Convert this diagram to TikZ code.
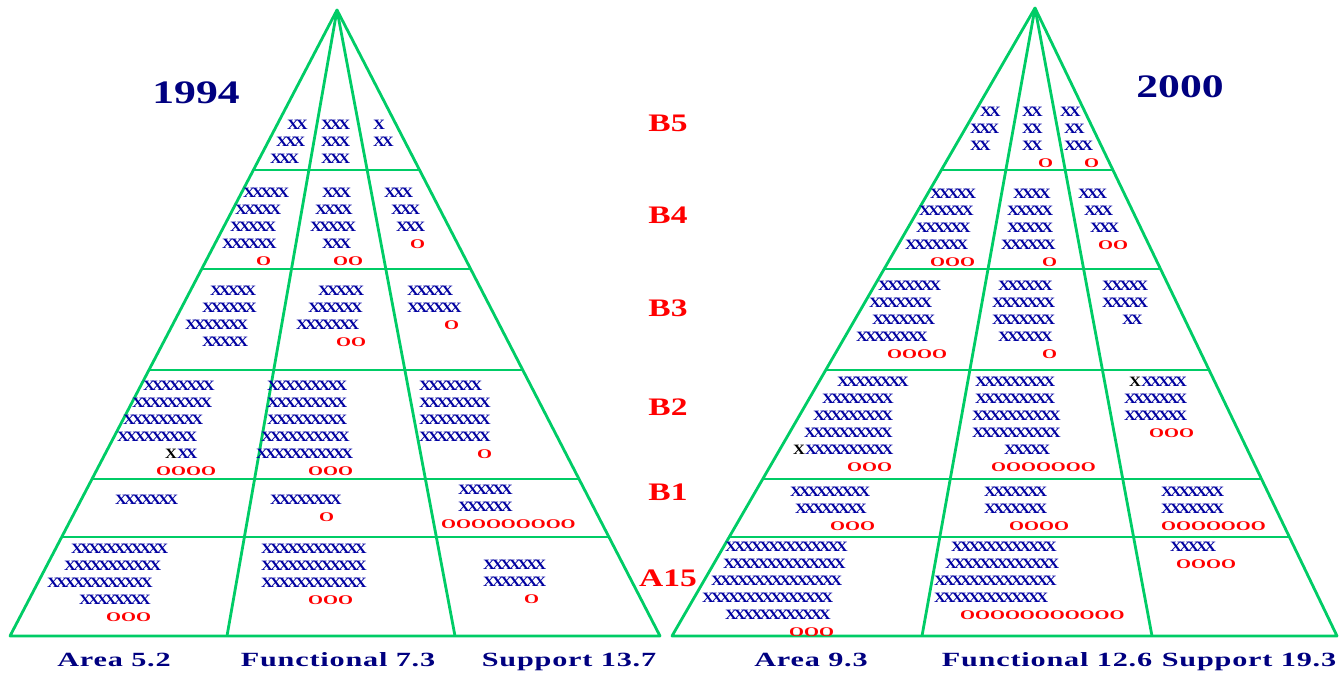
\documentclass[tikz,border=0pt]{standalone}
\usepackage{fontspec}
\setmainfont{Liberation Serif}
\newfontfamily\xfont{Liberation Serif}[FakeStretch=1.15,LetterSpace=-23.5]
\newfontfamily\ofont{Liberation Serif}[FakeStretch=1.45]
\newfontfamily\labfont{Liberation Serif}[FakeStretch=1.33]
\newfontfamily\fieldfont{Liberation Serif}[FakeStretch=1.5,LetterSpace=4]
\usetikzlibrary{calc}

\definecolor{pgreen}{RGB}{0,204,102}
\definecolor{xblue}{RGB}{0,0,160}
\definecolor{navy}{RGB}{0,0,128}
\definecolor{ored}{RGB}{255,0,0}

\newlength\pxu \setlength\pxu{0.03cm}
\newcommand\ind[1]{\hspace*{#1\pxu}}
\newcommand\orow[1]{{\ofont\bfseries\fontsize{11.3}{14.5}\selectfont\color{ored}#1}}
\newcommand\kx{{\color{black}X}}

\tikzset{
  gline/.style={pgreen, line width=2.4pt, line join=round},
  cell/.style={anchor=north west, inner sep=0pt, align=left, text=xblue,
    font=\xfont\bfseries\fontsize{12.2}{14.5}\selectfont},
  rank/.style={anchor=base, inner sep=0pt, text=ored,
    font=\labfont\bfseries\fontsize{21.5}{24}\selectfont},
  yearlab/.style={anchor=base, inner sep=0pt, text=navy,
    font=\labfont\bfseries\fontsize{28}{30}\selectfont},
  field/.style={anchor=base, inner sep=0pt, text=navy,
    font=\fieldfont\bfseries\fontsize{17.2}{19}\selectfont},
}

\begin{document}
\begin{tikzpicture}[x=0.03cm, y=-0.03cm]
  \useasboundingbox (0,0) rectangle (1339,677);

  % 1994 pyramid
  \coordinate (LA)  at (337,10);
  \coordinate (LL)  at (10,636);
  \coordinate (LR)  at (660,636);
  \coordinate (LM1) at (227,636);
  \coordinate (LM2) at (455,636);
  \draw[gline] (LA) -- (LL) -- (LR) -- cycle;
  \draw[gline] (LA) -- (LM1) (LA) -- (LM2);
  \foreach \t in {0.2556,0.4137,0.5751,0.7492,0.8419}
    \draw[gline] ($(LA)!\t!(LL)$) -- ($(LA)!\t!(LR)$);

  % 2000 pyramid
  \coordinate (RA)  at (1035,8);
  \coordinate (RL)  at (672,636);
  \coordinate (RR)  at (1337,636);
  \coordinate (RM1) at (922,636);
  \coordinate (RM2) at (1152,636);
  \draw[gline] (RA) -- (RL) -- (RR) -- cycle;
  \draw[gline] (RA) -- (RM1) (RA) -- (RM2);
  \foreach \t in {0.258,0.4156,0.5764,0.75,0.8424}
    \draw[gline] ($(RA)!\t!(RL)$) -- ($(RA)!\t!(RR)$);

  \node[yearlab] (y1994) at (196,104) {1994};
  \node[yearlab] (y2000) at (1180,98) {2000};

  \foreach \lab/\y in {B5/131.5,B4/223,B3/316,B2/415.5,B1/500.5,A15/586.5}
    \node[rank] (rank-\lab) at (668,\y) {\lab};

  % 1994 cells
  \node[cell] (lb5a) at (270,119.5) {\ind{17}XX\\\ind{6}XXX\\XXX};
  \node[cell] (lb5f) at (321,119.5) {XXX\\XXX\\XXX};
  \node[cell] (lb5s) at (373,119.5) {X\\XX};

  \node[cell] (lb4a) at (222,188) {\ind{21}XXXXX\\\ind{13}XXXXX\\\ind{8}XXXXX\\XXXXXX\\\ind{34}\orow{O}};
  \node[cell] (lb4f) at (310,188) {\ind{12}XXX\\\ind{5}XXXX\\XXXXX\\\ind{12}XXX\\\ind{23}\orow{OO}};
  \node[cell] (lb4s) at (384,188) {XXX\\\ind{7}XXX\\\ind{12}XXX\\\ind{26}\orow{O}};

  \node[cell] (lb3a) at (185,285.5) {\ind{25}XXXXX\\\ind{17}XXXXXX\\XXXXXXX\\\ind{17}XXXXX};
  \node[cell] (lb3f) at (296,285.5) {\ind{22}XXXXX\\\ind{12}XXXXXX\\XXXXXXX\\\ind{40}\orow{OO}};
  \node[cell] (lb3s) at (407,285.5) {XXXXX\\XXXXXX\\\ind{37}\orow{O}};

  \node[cell] (lb2a) at (117,380.5) {\ind{26}XXXXXXXX\\\ind{15}XXXXXXXXX\\\ind{6}XXXXXXXXX\\XXXXXXXXX\\\ind{48}\kx XX\\\ind{39}\orow{OOOO}};
  \node[cell] (lb2f) at (256,380.5) {\ind{11}XXXXXXXXX\\\ind{11}XXXXXXXXX\\\ind{11}XXXXXXXXX\\\ind{5}XXXXXXXXXX\\XXXXXXXXXXX\\\ind{52}\orow{OOO}};
  \node[cell] (lb2s) at (419,380.5) {XXXXXXX\\XXXXXXXX\\XXXXXXXX\\XXXXXXXX\\\ind{58}\orow{O}};

  \node[cell] (lb1a) at (115,494.5) {XXXXXXX};
  \node[cell] (lb1f) at (270,494.5) {XXXXXXXX\\\ind{49}\orow{O}};
  \node[cell] (lb1s) at (441,484.5) {\ind{17}XXXXXX\\\ind{17}XXXXXX\\\orow{OOOOOOOOO}};

  \node[cell] (la15a) at (47,544) {\ind{24}XXXXXXXXXXX\\\ind{17}XXXXXXXXXXX\\XXXXXXXXXXXX\\\ind{32}XXXXXXXX\\\ind{59}\orow{OOO}};
  \node[cell] (la15f) at (261,544) {XXXXXXXXXXXX\\XXXXXXXXXXXX\\XXXXXXXXXXXX\\\ind{47}\orow{OOO}};
  \node[cell] (la15s) at (483,560) {XXXXXXX\\XXXXXXX\\\ind{41}\orow{O}};

  % 2000 cells
  \node[cell] (rb5a) at (970,107) {\ind{10}XX\\XXX\\XX};
  \node[cell] (rb5f) at (1022,107) {XX\\XX\\XX\\\ind{16}\orow{O}};
  \node[cell] (rb5s) at (1060,107) {XX\\\ind{4}XX\\\ind{4}XXX\\\ind{24}\orow{O}};

  \node[cell] (rb4a) at (905,188.5) {\ind{25}XXXXX\\\ind{14}XXXXXX\\\ind{11}XXXXXX\\XXXXXXX\\\ind{25}\orow{OOO}};
  \node[cell] (rb4f) at (1001,188.5) {\ind{12}XXXX\\\ind{6}XXXXX\\\ind{6}XXXXX\\XXXXXX\\\ind{41}\orow{O}};
  \node[cell] (rb4s) at (1078,188.5) {XXX\\\ind{6}XXX\\\ind{12}XXX\\\ind{20}\orow{OO}};

  \node[cell] (rb3a) at (856,280.5) {\ind{22}XXXXXXX\\\ind{13}XXXXXXX\\\ind{16}XXXXXXX\\XXXXXXXX\\\ind{31}\orow{OOOO}};
  \node[cell] (rb3f) at (992,280.5) {\ind{6}XXXXXX\\XXXXXXX\\XXXXXXX\\\ind{6}XXXXXX\\\ind{50}\orow{O}};
  \node[cell] (rb3s) at (1102,280.5) {XXXXX\\XXXXX\\\ind{20}XX};

  \node[cell] (rb2a) at (793,377) {\ind{44}XXXXXXXX\\\ind{29}XXXXXXXX\\\ind{20}XXXXXXXXX\\\ind{11}XXXXXXXXXX\\\kx XXXXXXXXXX\\\ind{54}\orow{OOO}};
  \node[cell] (rb2f) at (972,377) {\ind{3}XXXXXXXXX\\\ind{3}XXXXXXXXX\\XXXXXXXXXX\\XXXXXXXXXX\\\ind{32}XXXXX\\\ind{19}\orow{OOOOOOO}};
  \node[cell] (rb2s) at (1124,377) {\ind{5}\kx XXXXX\\XXXXXXX\\XXXXXXX\\\ind{25}\orow{OOO}};

  \node[cell] (rb1a) at (790,486.5) {XXXXXXXXX\\\ind{5}XXXXXXXX\\\ind{40}\orow{OOO}};
  \node[cell] (rb1f) at (984,486.5) {XXXXXXX\\XXXXXXX\\\ind{25}\orow{OOOO}};
  \node[cell] (rb1s) at (1161,486.5) {XXXXXXX\\XXXXXXX\\\orow{OOOOOOO}};

  \node[cell] (ra15a) at (702,541.5) {\ind{23}XXXXXXXXXXXXXX\\\ind{21}XXXXXXXXXXXXXX\\\ind{9}XXXXXXXXXXXXXXX\\XXXXXXXXXXXXXXX\\\ind{23}XXXXXXXXXXXX\\\ind{87}\orow{OOO}};
  \node[cell] (ra15f) at (934,541.5) {\ind{17}XXXXXXXXXXXX\\\ind{11}XXXXXXXXXXXXX\\XXXXXXXXXXXXXX\\XXXXXXXXXXXXX\\\ind{26}\orow{OOOOOOOOOOO}};
  \node[cell] (ra15s) at (1170,541.5) {XXXXX\\\ind{6}\orow{OOOO}};

  % column labels
  \node[field] (l-area) at (114,666)  {Area 5.2};
  \node[field] (l-func) at (338,666)  {Functional 7.3};
  \node[field] (l-supp) at (569,666)  {Support 13.7};
  \node[field] (r-area) at (811,666)  {Area 9.3};
  \node[field] (r-func) at (1047,666) {Functional 12.6};
  \node[field] (r-supp) at (1249,666) {Support 19.3};
\end{tikzpicture}
\end{document}
